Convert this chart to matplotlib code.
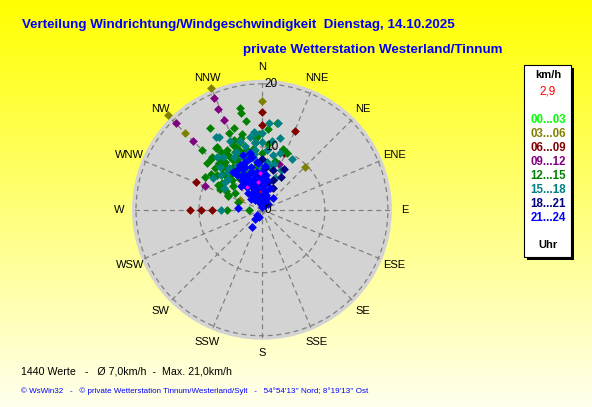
import numpy as np
import matplotlib
matplotlib.use('Agg')
import matplotlib.pyplot as plt
from matplotlib.patches import Rectangle

plt.rcParams['font.family'] = ['Liberation Sans', 'DejaVu Sans']

# wind direction (deg) and speed (km/h) per 3-hour block
h00_dir = [350, 355, 345]
h00_spd = [2.0, 3.0, 1.5]
h03_dir = [337.5, 315, 315, 0, 45, 294, 358]
h03_spd = [21.0, 21.2, 17.3, 17.3, 9.6, 3.9, 6.0]
h06_dir = [0, 0, 22.5, 21, 292.5, 270, 270, 270]
h06_spd = [15.5, 13.5, 13.5, 9.7, 11.4, 11.5, 9.6, 7.9]
h09_dir = [337, 336.5, 337, 315, 315, 292.5, 20.7]
h09_spd = [19.3, 17.4, 15.5, 19.4, 15.5, 9.8, 7.8]
h12_dir = [348, 348, 350, 10, 4, 327.6, 336.8, 315, 324.5, 19, 23.7, 315, 310.5, 317.5,
           342, 304, 270, 292, 288, 270, 341, 323.4, 316.7, 336, 335, 329, 346, 351.6,
           322, 333, 344, 312, 313, 326, 333, 315, 330, 338, 345, 320, 308, 300, 318,
           328, 340, 0, 5, 355, 310, 298, 325, 335, 352, 15, 358, 300, 294, 302, 296.6,
           320, 330, 338, 344, 312, 325, 305, 318]
h12_spd = [16.6, 15.7, 14.3, 14.0, 12.9, 15.4, 13.3, 13.5, 12.3, 10.2, 9.9, 11.4, 11.5, 10.1,
           11.3, 7.7, 5.6, 5.8, 4.0, 2.1, 13.8, 12.3, 11.6, 11.3, 10.2, 9.8, 9.8, 9.8,
           9.6, 8.5, 8.6, 10.0, 8.1, 8.2, 7.1, 6.7, 11.0, 12.0, 12.5, 8.8, 9.0, 8.0, 7.5,
           10.5, 10.0, 9.0, 10.5, 11.5, 6.0, 6.5, 6.0, 9.0, 7.0, 8.0, 12.0, 10.5, 5.9, 5.1, 7.5,
           10.2, 9.2, 10.8, 11.8, 8.6, 11.3, 9.8, 9.2]
h15_dir = [327.8, 329.5, 4.6, 14, 354, 30.5, 10.4, 354.8, 0, 0, 354, 353, 323.6, 315.7,
           337, 344, 350, 354, 350.7, 307, 303, 325, 328, 270, 11.3, 6, 338.5, 356, 10.5,
           22, 355, 334, 345, 340, 332, 318, 310, 0, 5, 358, 348, 15, 25, 320, 330, 3,
           342, 300, 326, 18, 8, 335, 336, 346, 352, 322, 312, 2]
h15_spd = [13.7, 13.5, 13.9, 11.8, 12.4, 9.4, 14.0, 12.3, 12.2, 10.8, 10.9, 9.6, 10.4, 9.5,
           7.8, 8.2, 8.5, 10.7, 11.7, 7.4, 9.3, 7.0, 5.6, 6.5, 8.9, 7.7, 6.5, 5.1, 6.9,
           5.5, 3.5, 4.4, 10.5, 9.0, 9.5, 8.0, 8.5, 8.0, 9.5, 7.0, 6.0, 7.5, 7.0, 11.0, 8.0, 5.0,
           11.5, 7.0, 4.5, 9.5, 11.0, 12.0, 10.0, 9.3, 9.0, 8.5, 7.2, 6.3]
h18_dir = [28, 26.6, 4, 0, 335.7, 12, 15.4, 348, 355, 20, 340, 8, 30]
h18_spd = [7.4, 3.9, 6.7, 8.1, 7.3, 4.5, 6.6, 8.6, 5.5, 5.0, 4.0, 3.0, 6.0]
h21_dir = [341, 347, 335, 335, 348, 347.5, 0, 329, 355.4, 345, 31, 322.6, 324.5, 326, 327,
           330, 325, 344, 349, 354, 338.4, 334, 4, 9.5, 3, 349.5, 20, 42.5, 45, 275, 210.5,
           218, 203, 225, 348, 350, 355, 345, 340, 338, 342, 352, 358, 5, 10, 15, 0, 345,
           332, 330, 336, 352, 348, 360, 340, 330, 0, 6, 10, 320, 315, 335, 350, 25, 340,
           328, 5, 352, 342, 318, 0, 355]
h21_spd = [9.2, 8.5, 7.5, 5.6, 5.2, 2.9, 1.3, 2.8, 4.0, 6.2, 0.9, 7.6, 6.8, 5.7, 4.4,
           3.1, 1.9, 1.2, 8.6, 7.7, 7.3, 7.9, 6.9, 4.8, 3.2, 4.4, 3.7, 2.6, 1.3, 3.8, 3.1,
           1.8, 1.2, 1.1, 9.2, 2.0, 3.0, 1.5, 3.5, 4.5, 5.0, 6.0, 5.0, 2.0, 1.5, 2.5, 4.5, 7.0,
           6.5, 5.0, 3.0, 4.8, 3.8, 2.5, 6.0, 6.0, 6.0, 5.5, 3.0, 3.5, 2.5, 2.0, 1.0, 2.0, 8.0,
           7.5, 4.0, 3.3, 2.3, 5.0, 0.5, 7.5]
last_dir = [352, 357, 327]
last_spd = [4.5, 5.9, 4.4]

blocks = [(h00_dir, h00_spd, '#00ff00'), (h03_dir, h03_spd, '#808000'),
          (h06_dir, h06_spd, '#800000'), (h09_dir, h09_spd, '#800080'),
          (h12_dir, h12_spd, '#008000'), (h15_dir, h15_spd, '#008080'),
          (h18_dir, h18_spd, '#000080'), (h21_dir, h21_spd, '#0000ff')]
legend_labels = ['00...03', '03...06', '06...09', '09...12', '12...15', '15...18', '18...21', '21...24']
compass = ['N', 'NNE', 'NE', 'ENE', 'E', 'ESE', 'SE', 'SSE',
           'S', 'SSW', 'SW', 'WSW', 'W', 'WNW', 'NW', 'NNW']

fig = plt.figure(figsize=(5.92, 4.07), dpi=100)

# yellow background fading downwards
bg = fig.add_axes([0, 0, 1, 1])
grad = np.linspace(0, 1, 256)[:, None]
img = np.ones((256, 2, 3))
img[:, :, 2] = (grad * 0.93)
bg.imshow(img, aspect='auto', extent=[0, 1, 0, 1])
bg.axis('off')

rmax = 20.63
ax = fig.add_axes([0.223, 0.165, 0.439, 0.639], projection='polar')
ax.set_facecolor('#d3d3d3')
ax.set_theta_zero_location('N')
ax.set_theta_direction(-1)
ax.set_ylim(0, rmax)
ax.grid(False)
ax.set_xticks([])
ax.set_yticks([])
ax.spines['polar'].set_visible(False)

t = np.linspace(0, 2 * np.pi, 400)
for r in [10, 20]:
    ax.plot(t, np.full_like(t, r), color='#808080', lw=0.9, ls=(0, (4, 3)))
for i in range(16):
    a = np.radians(i * 22.5)
    ax.plot([a, a], [0, 20.3], color='#808080', lw=0.9, ls=(0, (4, 3)))

for d, s, c in blocks:
    ax.scatter(np.radians(d), s, marker='D', s=20, color=c, linewidths=0, clip_on=False, zorder=3)
ax.scatter(np.radians(last_dir), last_spd, marker='D', s=6, color='#ff00ff', linewidths=0, zorder=4)
ax.scatter(np.radians([358]), [2.9], marker='s', s=3, color='red', linewidths=0, zorder=5)

for i, lab in enumerate(compass):
    ax.text(np.radians(i * 22.5), 22.7, lab, ha='center', va='center', fontsize=8, clip_on=False)
for r in [0, 10, 20]:
    ax.annotate(str(r), (0, r), xytext=(2, 0), textcoords='offset points',
                ha='left', va='center', fontsize=8.5)

fig.text(22 / 592, 1 - 25 / 407, 'Verteilung Windrichtung/Windgeschwindigkeit  Dienstag, 14.10.2025',
         color='#0000ff', fontsize=9.6, fontweight='bold', va='center')
fig.text(502 / 592, 1 - 50 / 407, 'private Wetterstation Westerland/Tinnum',
         color='#0000ff', fontsize=9.6, fontweight='bold', va='center', ha='right')
fig.text(21 / 592, 1 - 372 / 407, '1440 Werte   -   Ø 7,0km/h  -  Max. 21,0km/h',
         fontsize=7.7, va='center')
fig.text(21 / 592, 1 - 391 / 407,
         "© WsWin32   -   © private Wetterstation Tinnum/Westerland/Sylt   -   54°54'13'' Nord; 8°19'13'' Ost",
         color='#0000ff', fontsize=5.8, va='center')

# legend box with shadow
W, H = 592, 407
fig.add_artist(Rectangle((527 / W, 1 - 260 / H), 47 / W, 192 / H, transform=fig.transFigure,
                         facecolor='black', edgecolor='none'))
fig.add_artist(Rectangle((524 / W, 1 - 257 / H), 47 / W, 192 / H, transform=fig.transFigure,
                         facecolor='white', edgecolor='black', lw=0.8))
cx = 548 / W
fig.text(cx, 1 - 75 / H, 'km/h', ha='center', va='center', fontsize=8, fontweight='bold')
fig.text(cx, 1 - 92 / H, '2,9', ha='center', va='center', fontsize=8.5, color='red')
for i, (lab, blk) in enumerate(zip(legend_labels, blocks)):
    fig.text(cx, 1 - (120 + 14 * i) / H, lab, ha='center', va='center', fontsize=8.3,
             fontweight='bold', color=blk[2])
fig.text(cx, 1 - 245 / H, 'Uhr', ha='center', va='center', fontsize=8, fontweight='bold')

fig.savefig('out.png', dpi=100)
